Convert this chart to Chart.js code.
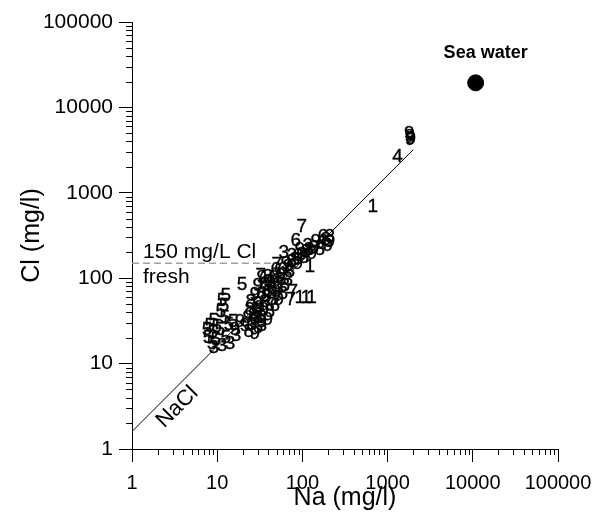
<!DOCTYPE html>
<html>
<head>
<meta charset="utf-8">
<script src="https://cdn.jsdelivr.net/npm/chart.js@4/dist/chart.umd.min.js"></script>
<style>
  html, body { margin: 0; padding: 0; background: #fff; }
  #wrap { width: 594px; height: 524px; position: relative; }
</style>
</head>
<body>
<div id="wrap"><canvas id="chart"></canvas></div>
<script>
const FONT = '"Liberation Sans", Arial, sans-serif';

// axis ticks (log decades)
const naTicks = [1, 10, 100, 1000, 10000, 100000];
const clTicks = [1, 10, 100, 1000, 10000, 100000];

// samples, [Na, Cl] in mg/l, marker = sample group number
const group1 = [[670, 680], [122, 135], [93, 58.6], [110, 58.6], [128, 58.6]];
const group3 = [[11.4, 16.1], [14.1, 17.0], [9.1, 15.2], [16.6, 21.0], [30.0, 34.1], [33.4, 30.7],
  [60.5, 197], [210, 303], [25.5, 28.3], [33.4, 27.5], [36.3, 52.6], [42.6, 85.6], [39.3, 104],
  [67.4, 95.3], [75.1, 182], [116, 238]];
const group4 = [[1310, 2630]];
const group5 = [[19.5, 83], [12.6, 62], [11.4, 54], [12.0, 47], [11.0, 41], [12.3, 34], [9.1, 32],
  [8.2, 28], [9.9, 26.8], [7.6, 24.7], [8.9, 22.8], [10.8, 24.7], [13.7, 28.3], [15.3, 30.7],
  [7.8, 20.0], [9.6, 18.9], [12.6, 20.0], [8.7, 17.0]];
const group6 = [[83.6, 272], [174, 303], [30.0, 26.1], [27.7, 32.4], [47.5, 47.2], [39.3, 68.9],
  [51.5, 85.6], [48.8, 125], [59.0, 125], [88.2, 182], [136, 225], [169, 251]];
const group7 = [[98.3, 398], [50.0, 143], [32.5, 106], [51.5, 58.6], [77.0, 69.0], [73.0, 55.6]];
const group8 = [[23.5, 23.4], [33.4, 34.1], [24.2, 42.4], [41.5, 40.2], [24.8, 52.6], [43.8, 55.6],
  [33.4, 65.3], [59.0, 65.3], [36.3, 83.2], [62.2, 81.1], [46.2, 101], [71.1, 118], [75.1, 155],
  [104, 172], [110, 202], [160, 214], [188, 280], [26.5, 36.0], [37.5, 61.0], [44.0, 75.0],
  [56.0, 95.0], [82.0, 165], [120, 215]];
const group9 = [[1820, 4500], [1850, 4150], [1800, 4850], [1870, 4320], [27.7, 22.2], [22.9, 34.1],
  [39.3, 32.4], [29.2, 40.2], [35.3, 42.4], [30.0, 49.8], [52.9, 55.6], [27.7, 63.6], [48.8, 68.9],
  [30.0, 81.1], [33.4, 101], [55.8, 106], [63.9, 147], [88.2, 147], [93.2, 214], [129, 192],
  [144, 265], [199, 238], [210, 265], [18.5, 30.7], [21.1, 27.5], [16.1, 24.7], [31.5, 45.0],
  [40.0, 90.0], [68.0, 135], [98.0, 190]];

const seaWater = [[10800, 19400]];
const naclLine = [[1, 1.6], [2000, 3200]];
const freshLimit = 150;
const freshLine = [[1, freshLimit], [94, freshLimit]];

const toPts = (arr) => arr.map(([x, y]) => ({ x, y }));

function markSet(mark, arr) {
  return { mark, data: toPts(arr), pointRadius: 0, showLine: false };
}

// draws the group numbers as the point markers, plus the text notes
const markerPlugin = {
  id: 'markers',
  afterDatasetsDraw(chart) {
    const ctx = chart.ctx;
    const xs = chart.scales.x;
    const ys = chart.scales.y;
    ctx.save();
    ctx.fillStyle = '#000';
    ctx.strokeStyle = '#000';
    ctx.lineWidth = 0.35;
    ctx.font = '19px ' + FONT;
    ctx.textAlign = 'center';
    ctx.textBaseline = 'middle';
    chart.data.datasets.forEach((ds, i) => {
      if (!ds.mark) return;
      chart.getDatasetMeta(i).data.forEach((el) => {
        ctx.fillText(ds.mark, el.x, el.y);
        ctx.strokeText(ds.mark, el.x, el.y);
      });
    });

    const fx = xs.getPixelForValue(1) + 11;
    const fy = ys.getPixelForValue(freshLimit);
    ctx.textAlign = 'left';
    ctx.textBaseline = 'alphabetic';
    ctx.font = '21px ' + FONT;
    ctx.fillText('150 mg/L Cl', fx, fy - 5);
    ctx.fillText('fresh', fx, fy + 20);

    const sx = xs.getPixelForValue(seaWater[0][0]);
    const sy = ys.getPixelForValue(seaWater[0][1]);
    ctx.textAlign = 'center';
    ctx.font = 'bold 18px ' + FONT;
    ctx.fillText('Sea water', sx + 10, sy - 25);

    ctx.translate(xs.getPixelForValue(3.4), ys.getPixelForValue(3.1));
    ctx.rotate(-Math.PI / 4);
    ctx.font = '22px ' + FONT;
    ctx.textBaseline = 'middle';
    ctx.fillText('NaCl', 0, 0);
    ctx.restore();
  }
};

// short minor ticks between the decades
const minorTickPlugin = {
  id: 'minorTicks',
  afterDraw(chart) {
    const ctx = chart.ctx;
    const xs = chart.scales.x;
    const ys = chart.scales.y;
    const area = chart.chartArea;
    ctx.save();
    ctx.strokeStyle = '#000';
    ctx.lineWidth = 1;
    ctx.beginPath();
    for (let d = 1; d < 100000; d *= 10) {
      for (let m = 2; m <= 9; m++) {
        const px = Math.round(xs.getPixelForValue(d * m)) + 0.5;
        ctx.moveTo(px, area.bottom);
        ctx.lineTo(px, area.bottom + 6);
        const py = Math.round(ys.getPixelForValue(d * m)) + 0.5;
        ctx.moveTo(area.left, py);
        ctx.lineTo(area.left - 6, py);
      }
    }
    ctx.stroke();
    ctx.restore();
  }
};

function axis(ticks, titleText, isX) {
  return {
    type: 'logarithmic',
    min: 1,
    max: 100000,
    afterBuildTicks: (s) => { s.ticks = ticks.map((v) => ({ value: v })); },
    afterFit: (s) => {
      if (isX) s.height = 75; else s.width = 132;
      s.paddingLeft = 0; s.paddingRight = 0; s.paddingTop = 0; s.paddingBottom = 0;
    },
    ticks: {
      color: '#000',
      font: { family: FONT, size: isX ? 20 : 21 },
      padding: isX ? 9 : 6,
      autoSkip: false,
      maxRotation: 0,
      callback: (v) => String(v)
    },
    grid: { display: true, drawOnChartArea: false, drawTicks: true, tickLength: 13, color: '#000', lineWidth: 1 },
    border: { display: true, color: '#000', width: 1 },
    title: {
      display: true,
      text: titleText,
      color: '#000',
      font: { family: FONT, size: 25 },
      padding: isX ? { top: 0, bottom: 11 } : { top: 17, bottom: 0 }
    }
  };
}

new Chart(document.getElementById('chart'), {
  type: 'scatter',
  data: {
    datasets: [
      { data: toPts(naclLine), showLine: true, borderColor: '#000', borderWidth: 1, pointRadius: 0 },
      { data: toPts(freshLine), showLine: true, borderColor: '#a0a0a0', borderWidth: 1.5, borderDash: [7, 4], pointRadius: 0 },
      markSet('1', group1),
      markSet('3', group3),
      markSet('4', group4),
      markSet('5', group5),
      markSet('6', group6),
      markSet('7', group7),
      markSet('8', group8),
      markSet('9', group9),
      { data: toPts(seaWater), pointRadius: 8, pointBackgroundColor: '#000', pointBorderColor: '#000', showLine: false }
    ]
  },
  options: {
    responsive: true,
    maintainAspectRatio: false,
    animation: false,
    events: [],
    layout: { padding: { top: 22, right: 36, left: 0, bottom: 0 } },
    plugins: { legend: { display: false }, tooltip: { enabled: false } },
    scales: {
      x: axis(naTicks, 'Na (mg/l)', true),
      y: axis(clTicks, 'Cl (mg/l)', false)
    }
  },
  plugins: [markerPlugin, minorTickPlugin]
});
</script>
</body>
</html>
